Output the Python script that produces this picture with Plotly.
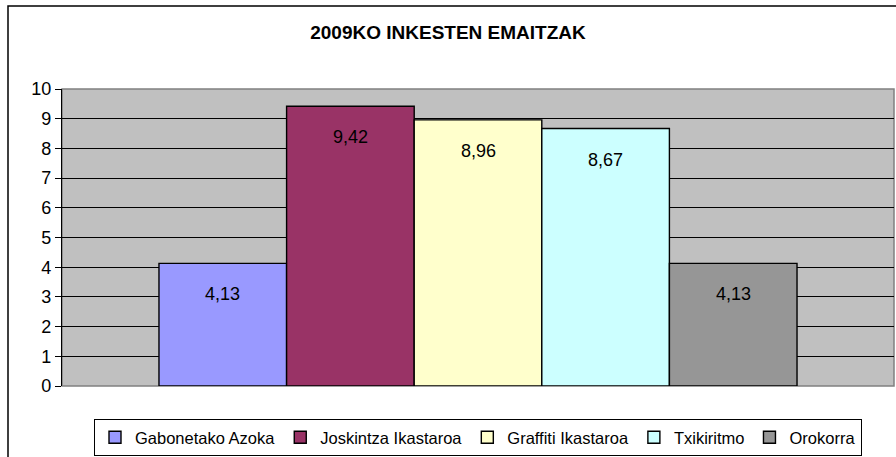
import plotly.graph_objects as go

series_names = ["Gabonetako Azoka", "Joskintza Ikastaroa", "Graffiti Ikastaroa", "Txikiritmo", "Orokorra"]
values = [4.13, 9.42, 8.96, 8.67, 4.13]
colors = ["#9999FF", "#993366", "#FFFFCC", "#CCFFFF", "#969696"]
y_ticks = [0, 1, 2, 3, 4, 5, 6, 7, 8, 9, 10]
title = "2009KO INKESTEN EMAITZAK"

FONT = "Liberation Sans, Arial, sans-serif"

fig = go.Figure()
for i, (name, v, c) in enumerate(zip(series_names, values, colors)):
    fig.add_trace(go.Bar(
        x=[i], y=[v], name=name, width=1,
        marker=dict(color=c, line=dict(color="#000000", width=1.4)),
        hoverinfo="name+y",
    ))
    fig.add_annotation(
        x=i, y=v, xref="x", yref="y", yshift=-31,
        text=f"{v:.2f}".replace(".", ","), showarrow=False,
        font=dict(family=FONT, size=18, color="#000000"),
    )

W, H = 896, 457
ml, mr, mt, mb = 62, 2, 89, 71
pw, ph = W - ml - mr, H - mt - mb

# outer chart border (extends past right/bottom edges)
fig.add_shape(type="rect", xref="paper", yref="paper",
              x0=(8 - ml) / pw, x1=(W + 5 - ml) / pw,
              y0=-(H + 5 - mt - ph) / ph, y1=(mt - 6) / ph + 1,
              line=dict(color="#000000", width=1.5), fillcolor="rgba(0,0,0,0)", layer="below")
# plot area border
fig.add_shape(type="rect", xref="paper", yref="paper", x0=0, x1=1, y0=0, y1=1,
              line=dict(color="#808080", width=1.5), fillcolor="rgba(0,0,0,0)", layer="below")

fig.update_layout(
    width=W, height=H,
    margin=dict(l=ml, r=mr, t=mt, b=mb, autoexpand=False),
    paper_bgcolor="#FFFFFF", plot_bgcolor="#C0C0C0",
    separators=",.",
    barmode="overlay",
    font=dict(family=FONT, size=17, color="#000000"),
    title=dict(text=f"<b>{title}</b>", x=0.5, xanchor="center", y=1 - 32 / H, yanchor="middle",
               font=dict(family=FONT, size=19, color="#000000")),
    showlegend=True,
    legend=dict(orientation="h", x=0.5, xanchor="center", y=-(419 - mt - ph) / ph, yanchor="top",
                bordercolor="#000000", borderwidth=1, bgcolor="#FFFFFF",
                font=dict(family=FONT, size=16.5, color="#000000"),
                itemwidth=30, tracegroupgap=0),
    xaxis=dict(range=[-1.26, 5.26], showticklabels=False, showgrid=False, zeroline=False,
               ticks="", showline=False, fixedrange=True),
    yaxis=dict(range=[0, 10], tickvals=y_ticks, showgrid=True, gridcolor="#000000", gridwidth=1,
               zeroline=False, showline=True, linecolor="#000000", linewidth=1.3,
               ticks="outside", ticklen=6, tickcolor="#000000", tickwidth=1,
               tickfont=dict(family=FONT, size=18, color="#000000")),
)

fig.write_html("out.html", config={"displayModeBar": False},
               post_script="document.body.style.margin='0';document.body.style.overflow='hidden';")
